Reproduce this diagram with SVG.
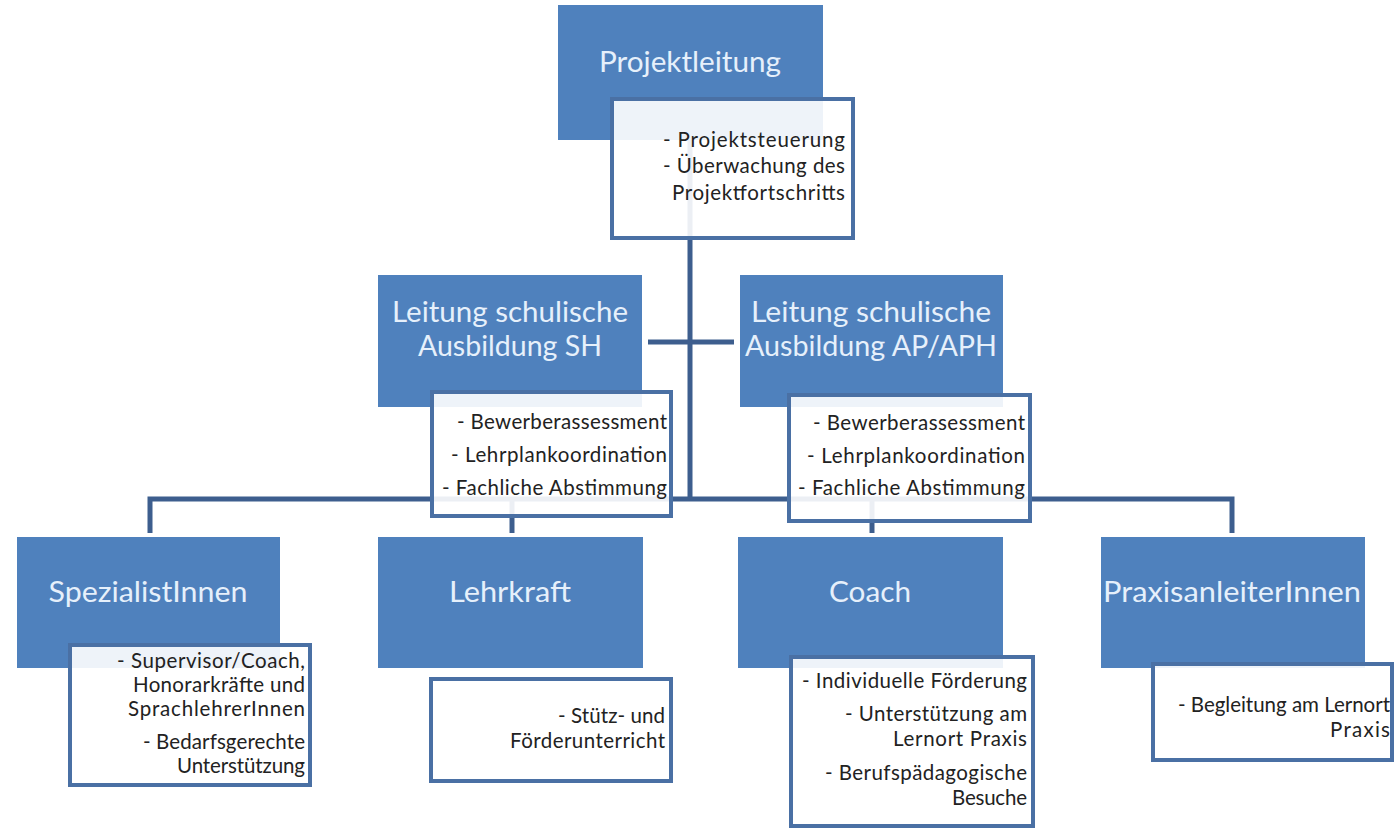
<svg xmlns="http://www.w3.org/2000/svg" width="1396" height="830" viewBox="0 0 1396 830">
  <style>
    .blue { fill: #4f81bd; }
    .card { fill: #ffffff; fill-opacity: 0.9; stroke: #4a70a4; stroke-width: 4; }
    .title { font-family: Lato, "Liberation Sans", sans-serif; font-size: 29px; fill: #e6f0fb; text-anchor: middle; }
    .body { font-family: Lato, "Liberation Sans", sans-serif; font-size: 20.5px; fill: #222222; text-anchor: end; }
    .conn { fill: none; stroke: #3d5e8e; stroke-width: 5; stroke-linejoin: miter; }
  </style>
  <rect width="1396" height="830" fill="#ffffff"/>

  <g id="connectors">
    <path class="conn" d="M690,140 V499"/>
    <path class="conn" d="M648,342 H734"/>
    <path class="conn" d="M150,533 V499 H1232 V533"/>
    <path class="conn" d="M512,499 V533"/>
    <path class="conn" d="M872,499 V533"/>
  </g>

  <g id="node-projektleitung">
    <rect class="blue" x="558" y="5" width="265" height="135"/>
    <text class="title" x="690" y="72" textLength="182" lengthAdjust="spacingAndGlyphs">Projektleitung</text>
    <rect class="card" x="612" y="99" width="241" height="139"/>
    <text class="body" x="845" y="147" textLength="182" lengthAdjust="spacing">- Projektsteuerung</text>
    <text class="body" x="845" y="173" textLength="182" lengthAdjust="spacing">- Überwachung des</text>
    <text class="body" x="845" y="200" textLength="173" lengthAdjust="spacing">Projektfortschritts</text>
  </g>

  <g id="node-leitung-sh">
    <rect class="blue" x="378" y="275" width="264" height="132"/>
    <text class="title" x="510" y="322" textLength="236" lengthAdjust="spacingAndGlyphs">Leitung schulische</text>
    <text class="title" x="510" y="356" textLength="184" lengthAdjust="spacingAndGlyphs">Ausbildung SH</text>
    <rect class="card" x="432" y="392" width="239" height="124"/>
    <text class="body" x="667" y="429" textLength="210" lengthAdjust="spacing">- Bewerberassessment</text>
    <text class="body" x="667" y="462" textLength="216" lengthAdjust="spacing">- Lehrplankoordination</text>
    <text class="body" x="667" y="495" textLength="225" lengthAdjust="spacing">- Fachliche Abstimmung</text>
  </g>

  <g id="node-leitung-ap">
    <rect class="blue" x="740" y="275" width="263" height="132"/>
    <text class="title" x="871" y="322" textLength="240" lengthAdjust="spacingAndGlyphs">Leitung schulische</text>
    <text class="title" x="871" y="356" textLength="252" lengthAdjust="spacingAndGlyphs">Ausbildung AP/APH</text>
    <rect class="card" x="789" y="395" width="241" height="126"/>
    <text class="body" x="1025" y="430" textLength="212" lengthAdjust="spacing">- Bewerberassessment</text>
    <text class="body" x="1025" y="463" textLength="218" lengthAdjust="spacing">- Lehrplankoordination</text>
    <text class="body" x="1025" y="495" textLength="227" lengthAdjust="spacing">- Fachliche Abstimmung</text>
  </g>

  <g id="node-spezialisten">
    <rect class="blue" x="17" y="537" width="263" height="131"/>
    <text class="title" x="148" y="602" textLength="199" lengthAdjust="spacingAndGlyphs">SpezialistInnen</text>
    <rect class="card" x="70" y="645" width="240" height="140"/>
    <text class="body" x="305" y="668" textLength="188" lengthAdjust="spacing">- Supervisor/Coach,</text>
    <text class="body" x="305" y="692" textLength="172" lengthAdjust="spacing">Honorarkräfte und</text>
    <text class="body" x="305" y="716" textLength="177" lengthAdjust="spacing">SprachlehrerInnen</text>
    <text class="body" x="305" y="749" textLength="162" lengthAdjust="spacing">- Bedarfsgerechte</text>
    <text class="body" x="305" y="773" textLength="128" lengthAdjust="spacing">Unterstützung</text>
  </g>

  <g id="node-lehrkraft">
    <rect class="blue" x="378" y="537" width="265" height="131"/>
    <text class="title" x="510" y="602" textLength="122" lengthAdjust="spacingAndGlyphs">Lehrkraft</text>
    <rect class="card" x="431" y="679" width="240" height="102"/>
    <text class="body" x="665" y="723" textLength="107" lengthAdjust="spacing">- Stütz-  und</text>
    <text class="body" x="665" y="748" textLength="155" lengthAdjust="spacing">Förderunterricht</text>
  </g>

  <g id="node-coach">
    <rect class="blue" x="738" y="537" width="265" height="131"/>
    <text class="title" x="870" y="602" textLength="82" lengthAdjust="spacingAndGlyphs">Coach</text>
    <rect class="card" x="791" y="657" width="242" height="169"/>
    <text class="body" x="1027" y="688" textLength="225" lengthAdjust="spacing">- Individuelle Förderung</text>
    <text class="body" x="1027" y="721" textLength="182" lengthAdjust="spacing">- Unterstützung  am</text>
    <text class="body" x="1027" y="746" textLength="134" lengthAdjust="spacing">Lernort Praxis</text>
    <text class="body" x="1027" y="780" textLength="202" lengthAdjust="spacing">- Berufspädagogische</text>
    <text class="body" x="1027" y="805" textLength="75" lengthAdjust="spacing">Besuche</text>
  </g>

  <g id="node-praxisanleiter">
    <rect class="blue" x="1101" y="537" width="264" height="131"/>
    <text class="title" x="1232" y="602" textLength="258" lengthAdjust="spacingAndGlyphs">PraxisanleiterInnen</text>
    <rect class="card" x="1153" y="664" width="239" height="96"/>
    <text class="body" x="1390" y="712" textLength="212" lengthAdjust="spacing">- Begleitung am Lernort</text>
    <text class="body" x="1390" y="737" textLength="60" lengthAdjust="spacing">Praxis</text>
  </g>
</svg>
